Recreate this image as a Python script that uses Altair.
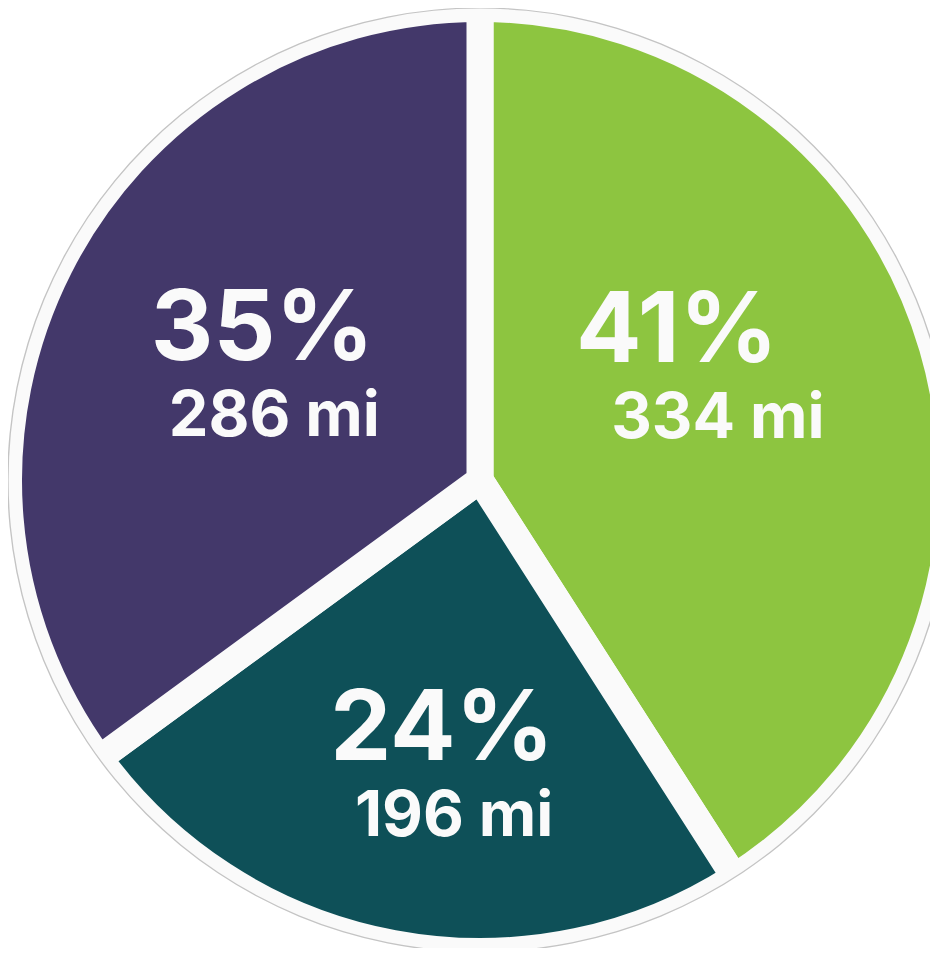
import math
import altair as alt
import pandas as pd

# Slices, clockwise from 12 o'clock
categories = ["Segment A", "Segment B", "Segment C"]
miles = [334, 196, 286]
pct_labels = ["41%", "24%", "35%"]
mile_labels = ["334 mi", "196 mi", "286 mi"]
slice_order = [0, 1, 2]
colors = ["#8dc540", "#0e5058", "#43386a"]

df = pd.DataFrame({
    "category": categories,
    "miles": miles,
    "pct": pct_labels,
    "mi": mile_labels,
    "ord": slice_order,
})

CX, CY = 472, 472      # centre of the pie inside the chart
R = 472                # outer radius of the ring
GAP = 27               # width of the white separators
RING = "#fafafa"
FONT = "Inter"

base = alt.Chart(df)

slices = base.mark_arc(radius=R - 0.5, stroke=RING, strokeWidth=GAP).encode(
    theta=alt.Theta("miles:Q", stack=True),
    color=alt.Color("category:N", scale=alt.Scale(domain=categories, range=colors), legend=None),
    order=alt.Order("ord:Q"),
    x=alt.value(CX),
    y=alt.value(CY),
)

one = alt.Chart(pd.DataFrame({"k": [0]}))
outer_white = one.mark_arc(theta=0, theta2=2 * math.pi, radius=R + 40, radius2=R + 0.5,
                           fill="white", strokeWidth=0).encode(x=alt.value(CX), y=alt.value(CY))
outline = one.mark_arc(theta=0, theta2=2 * math.pi, radius=R + 0.6, radius2=R - 0.6,
                       fill="#c4c4c4", strokeWidth=0).encode(x=alt.value(CX), y=alt.value(CY))

lab = (
    base.transform_window(cum="sum(miles)", sort=[alt.SortField("ord")], frame=[None, 0])
    .transform_joinaggregate(total="sum(miles)")
    .transform_calculate(ang="2*PI*(datum.cum - datum.miles/2)/datum.total - 5*PI/180")
    .transform_calculate(lr="227 + 90*max(0, -cos(datum.ang))")
    .transform_calculate(lx=f"{CX} + datum.lr*sin(datum.ang)", ly=f"{CY} - datum.lr*cos(datum.ang)")
    .transform_calculate(
        lx_pct="datum.lx - 7 - 8*max(0, sin(datum.ang))",
        lx_mi="datum.lx + 5 + 23*max(0, sin(datum.ang))",
    )
)

pct_text = lab.mark_text(font=FONT, fontWeight="bold", fontSize=97, color=RING,
                         baseline="alphabetic", align="center", dy=-35).encode(
    x=alt.X("lx_pct:Q", scale=None, axis=None),
    y=alt.Y("ly:Q", scale=None, axis=None),
    text="pct:N",
)
mi_text = lab.mark_text(font=FONT, fontWeight="bold", fontSize=63, color=RING,
                        baseline="alphabetic", align="center", dy=41).encode(
    x=alt.X("lx_mi:Q", scale=None, axis=None),
    y=alt.Y("ly:Q", scale=None, axis=None),
    text="mi:N",
)

chart = (
    alt.layer(slices, outer_white, outline, pct_text, mi_text)
    .properties(width=922, height=940, autosize=alt.AutoSizeParams(type="none"), padding=0,
                background="white")
    .configure_view(strokeWidth=0)
)

chart.save("out.html", embed_options={"renderer": "svg", "actions": False})
